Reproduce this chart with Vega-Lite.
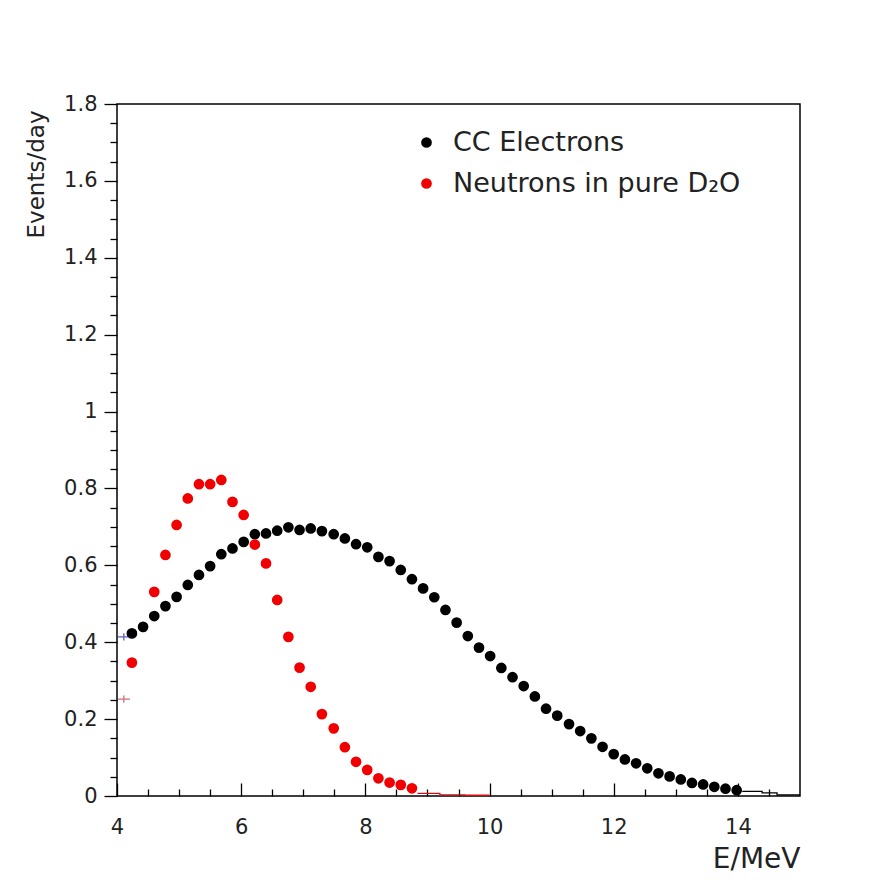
{
  "$schema": "https://vega.github.io/schema/vega-lite/v6.json",
  "width": 683,
  "height": 692,
  "autosize": {"type": "none"},
  "padding": {"left": 117, "top": 104, "right": 77, "bottom": 84},
  "background": "white",
  "config": {
    "view": {"stroke": "black", "strokeWidth": 1.5},
    "axis": {"domain": false, "grid": false, "tickColor": "black", "tickWidth": 1.3, "labelFont": "DejaVu Sans", "labelColor": "#222", "titleFont": "DejaVu Sans", "titleColor": "#222", "titleFontWeight": "normal", "labelOverlap": false, "labelFlush": false}
  },
  "datasets": {
    "pts": [
      {"E": 4.24, "rate": 0.423, "series": "CC Electrons"},
      {"E": 4.42, "rate": 0.440, "series": "CC Electrons"},
      {"E": 4.60, "rate": 0.468, "series": "CC Electrons"},
      {"E": 4.78, "rate": 0.494, "series": "CC Electrons"},
      {"E": 4.96, "rate": 0.518, "series": "CC Electrons"},
      {"E": 5.14, "rate": 0.549, "series": "CC Electrons"},
      {"E": 5.32, "rate": 0.575, "series": "CC Electrons"},
      {"E": 5.50, "rate": 0.598, "series": "CC Electrons"},
      {"E": 5.68, "rate": 0.629, "series": "CC Electrons"},
      {"E": 5.86, "rate": 0.644, "series": "CC Electrons"},
      {"E": 6.04, "rate": 0.661, "series": "CC Electrons"},
      {"E": 6.22, "rate": 0.681, "series": "CC Electrons"},
      {"E": 6.40, "rate": 0.683, "series": "CC Electrons"},
      {"E": 6.58, "rate": 0.690, "series": "CC Electrons"},
      {"E": 6.76, "rate": 0.699, "series": "CC Electrons"},
      {"E": 6.94, "rate": 0.692, "series": "CC Electrons"},
      {"E": 7.12, "rate": 0.696, "series": "CC Electrons"},
      {"E": 7.30, "rate": 0.689, "series": "CC Electrons"},
      {"E": 7.49, "rate": 0.681, "series": "CC Electrons"},
      {"E": 7.67, "rate": 0.670, "series": "CC Electrons"},
      {"E": 7.85, "rate": 0.655, "series": "CC Electrons"},
      {"E": 8.03, "rate": 0.647, "series": "CC Electrons"},
      {"E": 8.21, "rate": 0.622, "series": "CC Electrons"},
      {"E": 8.39, "rate": 0.611, "series": "CC Electrons"},
      {"E": 8.57, "rate": 0.588, "series": "CC Electrons"},
      {"E": 8.75, "rate": 0.564, "series": "CC Electrons"},
      {"E": 8.93, "rate": 0.540, "series": "CC Electrons"},
      {"E": 9.11, "rate": 0.517, "series": "CC Electrons"},
      {"E": 9.29, "rate": 0.484, "series": "CC Electrons"},
      {"E": 9.47, "rate": 0.451, "series": "CC Electrons"},
      {"E": 9.65, "rate": 0.416, "series": "CC Electrons"},
      {"E": 9.83, "rate": 0.386, "series": "CC Electrons"},
      {"E": 10.01, "rate": 0.364, "series": "CC Electrons"},
      {"E": 10.19, "rate": 0.333, "series": "CC Electrons"},
      {"E": 10.37, "rate": 0.309, "series": "CC Electrons"},
      {"E": 10.55, "rate": 0.286, "series": "CC Electrons"},
      {"E": 10.73, "rate": 0.259, "series": "CC Electrons"},
      {"E": 10.91, "rate": 0.227, "series": "CC Electrons"},
      {"E": 11.09, "rate": 0.209, "series": "CC Electrons"},
      {"E": 11.28, "rate": 0.187, "series": "CC Electrons"},
      {"E": 11.46, "rate": 0.169, "series": "CC Electrons"},
      {"E": 11.64, "rate": 0.150, "series": "CC Electrons"},
      {"E": 11.82, "rate": 0.128, "series": "CC Electrons"},
      {"E": 12.00, "rate": 0.109, "series": "CC Electrons"},
      {"E": 12.18, "rate": 0.095, "series": "CC Electrons"},
      {"E": 12.36, "rate": 0.085, "series": "CC Electrons"},
      {"E": 12.54, "rate": 0.072, "series": "CC Electrons"},
      {"E": 12.72, "rate": 0.059, "series": "CC Electrons"},
      {"E": 12.90, "rate": 0.051, "series": "CC Electrons"},
      {"E": 13.08, "rate": 0.043, "series": "CC Electrons"},
      {"E": 13.26, "rate": 0.034, "series": "CC Electrons"},
      {"E": 13.44, "rate": 0.030, "series": "CC Electrons"},
      {"E": 13.62, "rate": 0.024, "series": "CC Electrons"},
      {"E": 13.80, "rate": 0.019, "series": "CC Electrons"},
      {"E": 13.98, "rate": 0.015, "series": "CC Electrons"},
      {"E": 4.24, "rate": 0.347, "series": "Neutrons in pure D₂O"},
      {"E": 4.60, "rate": 0.531, "series": "Neutrons in pure D₂O"},
      {"E": 4.78, "rate": 0.627, "series": "Neutrons in pure D₂O"},
      {"E": 4.96, "rate": 0.705, "series": "Neutrons in pure D₂O"},
      {"E": 5.14, "rate": 0.774, "series": "Neutrons in pure D₂O"},
      {"E": 5.32, "rate": 0.811, "series": "Neutrons in pure D₂O"},
      {"E": 5.50, "rate": 0.811, "series": "Neutrons in pure D₂O"},
      {"E": 5.68, "rate": 0.822, "series": "Neutrons in pure D₂O"},
      {"E": 5.86, "rate": 0.765, "series": "Neutrons in pure D₂O"},
      {"E": 6.04, "rate": 0.731, "series": "Neutrons in pure D₂O"},
      {"E": 6.22, "rate": 0.654, "series": "Neutrons in pure D₂O"},
      {"E": 6.40, "rate": 0.605, "series": "Neutrons in pure D₂O"},
      {"E": 6.58, "rate": 0.510, "series": "Neutrons in pure D₂O"},
      {"E": 6.76, "rate": 0.414, "series": "Neutrons in pure D₂O"},
      {"E": 6.94, "rate": 0.334, "series": "Neutrons in pure D₂O"},
      {"E": 7.12, "rate": 0.284, "series": "Neutrons in pure D₂O"},
      {"E": 7.30, "rate": 0.213, "series": "Neutrons in pure D₂O"},
      {"E": 7.49, "rate": 0.176, "series": "Neutrons in pure D₂O"},
      {"E": 7.67, "rate": 0.127, "series": "Neutrons in pure D₂O"},
      {"E": 7.85, "rate": 0.089, "series": "Neutrons in pure D₂O"},
      {"E": 8.03, "rate": 0.068, "series": "Neutrons in pure D₂O"},
      {"E": 8.21, "rate": 0.046, "series": "Neutrons in pure D₂O"},
      {"E": 8.39, "rate": 0.035, "series": "Neutrons in pure D₂O"},
      {"E": 8.57, "rate": 0.029, "series": "Neutrons in pure D₂O"},
      {"E": 8.75, "rate": 0.020, "series": "Neutrons in pure D₂O"}
    ],
    "blackTail": [
      {"E": 14.07, "rate": 0.012},
      {"E": 14.39, "rate": 0.008},
      {"E": 14.63, "rate": 0.003},
      {"E": 15.0, "rate": 0.003}
    ],
    "redTail": [
      {"E": 8.84, "rate": 0.007},
      {"E": 9.2, "rate": 0.003},
      {"E": 9.6, "rate": 0.002},
      {"E": 10.0, "rate": 0.002}
    ],
    "crosses": [
      {"E": 4.11, "rate": 0.414, "c": "#1a1aa0"},
      {"E": 4.11, "rate": 0.252, "c": "#c0303a"}
    ]
  },
  "encoding": {
    "x": {
      "field": "E", "type": "quantitative",
      "scale": {"domain": [4, 15], "nice": false, "zero": false},
      "axis": {
        "values": [4, 4.5, 5, 5.5, 6, 6.5, 7, 7.5, 8, 8.5, 9, 9.5, 10, 10.5, 11, 11.5, 12, 12.5, 13, 13.5, 14, 14.5],
        "tickSize": {"condition": {"test": "datum.value % 2 === 0", "value": -13}, "value": -7},
        "labelExpr": "datum.value % 2 === 0 ? format(datum.value, 'd') : ''",
        "labelFontSize": 21,
        "labelPadding": 33,
        "title": "E/MeV",
        "titleFontSize": 28,
        "titleAnchor": "end",
        "titleAlign": "right",
        "titleBaseline": "middle",
        "titleX": 683,
        "titleY": 63
      }
    },
    "y": {
      "field": "rate", "type": "quantitative",
      "scale": {"domain": [0, 1.8], "nice": false},
      "axis": {
        "values": [0, 0.05, 0.1, 0.15, 0.2, 0.25, 0.3, 0.35, 0.4, 0.45, 0.5, 0.55, 0.6, 0.65, 0.7, 0.75, 0.8, 0.85, 0.9, 0.95, 1, 1.05, 1.1, 1.15, 1.2, 1.25, 1.3, 1.35, 1.4, 1.45, 1.5, 1.55, 1.6, 1.65, 1.7, 1.75, 1.8],
        "tickSize": {"condition": {"test": "abs(datum.value*5 - round(datum.value*5)) < 0.01", "value": 13}, "value": 7},
        "labelExpr": "abs(datum.value*5 - round(datum.value*5)) < 0.01 ? format(datum.value, '.1~f') : ''",
        "labelFontSize": 21,
        "labelPadding": 7,
        "title": "Events/day",
        "titleFontSize": 23,
        "titleAngle": -90,
        "titleAnchor": "end",
        "titleAlign": "right",
        "titleBaseline": "middle",
        "titleX": -81,
        "titleY": 6
      }
    }
  },
  "layer": [
    {
      "data": {"name": "blackTail"},
      "mark": {"type": "line", "interpolate": "step-after", "color": "black", "strokeWidth": 1.3},
      "encoding": {}
    },
    {
      "data": {"name": "redTail"},
      "mark": {"type": "line", "interpolate": "step-after", "color": "#d01010", "strokeWidth": 1.3},
      "encoding": {}
    },
    {
      "data": {"name": "pts"},
      "mark": {"type": "point", "shape": "circle", "filled": true, "size": 115, "opacity": 1, "strokeWidth": 1},
      "encoding": {
        "color": {
          "field": "series", "type": "nominal",
          "scale": {"domain": ["CC Electrons", "Neutrons in pure D₂O"], "range": ["#000000", "#f00000"]},
          "legend": {
            "title": null,
            "orient": "none",
            "legendX": 296,
            "legendY": 25,
            "padding": 0,
            "symbolType": "circle",
            "symbolSize": 115,
            "symbolStrokeWidth": 0,
            "labelFont": "DejaVu Sans",
            "labelFontSize": 27,
            "labelColor": "#222",
            "labelOffset": 13,
            "rowPadding": 13,
            "labelLimit": 500
          }
        }
      }
    },
    {
      "data": {"name": "crosses"},
      "mark": {"type": "point", "shape": "M-1,0H1M0,-0.6V0.6", "filled": false, "size": 150, "strokeWidth": 1.3},
      "encoding": {
        "stroke": {"field": "c", "type": "nominal", "scale": null}
      }
    }
  ]
}
